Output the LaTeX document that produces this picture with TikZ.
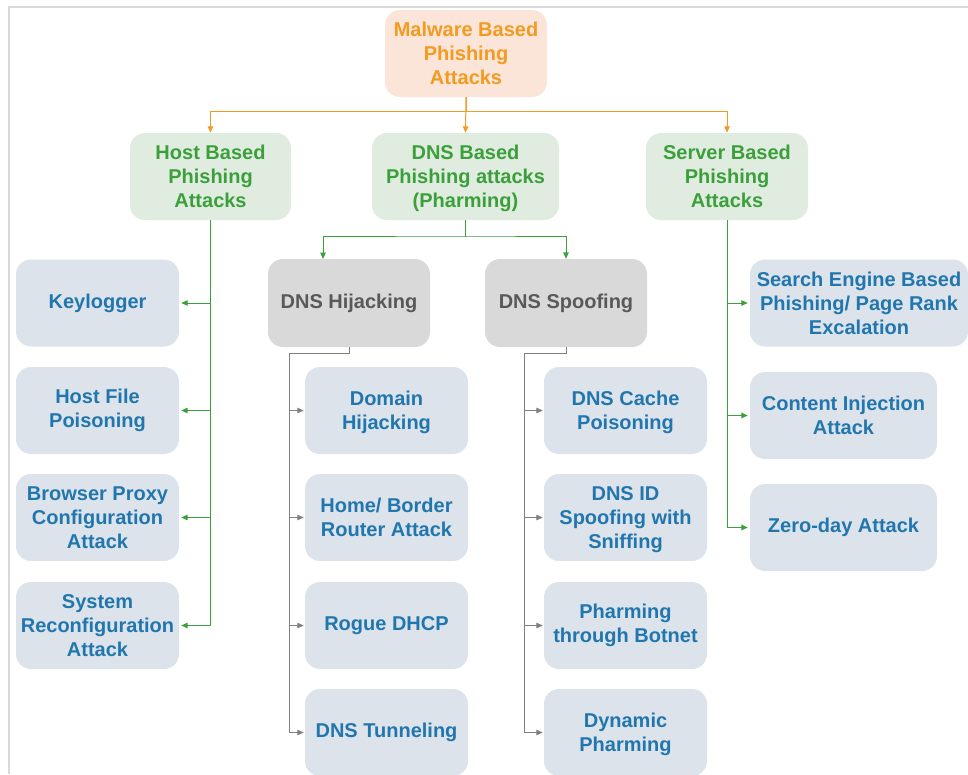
\documentclass[tikz,border=0pt]{standalone}
\usepackage{fontspec}
\setmainfont{Liberation Sans}
\usetikzlibrary{arrows.meta}
\definecolor{rootfill}{HTML}{FBE5D8}
\definecolor{roottext}{HTML}{F29B21}
\definecolor{midfill}{HTML}{E0ECDF}
\definecolor{midtext}{HTML}{3BA03B}
\definecolor{leaffill}{HTML}{DCE3EB}
\definecolor{leaftext}{HTML}{2176AE}
\definecolor{subfill}{HTML}{D9D9D9}
\definecolor{subtext}{HTML}{595959}
\definecolor{framegray}{HTML}{D9D9D9}
\definecolor{linegray}{HTML}{808080}
% last line of a label without its descender depth
\newcommand{\nodepth}[1]{\raisebox{0pt}[\height][0pt]{#1}}
\tikzset{
  box/.style={rounded corners=15pt, inner sep=0pt, align=center,
    font=\bfseries\fontsize{20}{24}\selectfont},
  rootbox/.style={box, fill=rootfill, text=roottext, minimum width=162pt, minimum height=87pt},
  midbox/.style={box, fill=midfill, text=midtext, minimum height=87pt},
  subbox/.style={box, fill=subfill, text=subtext, minimum width=162pt, minimum height=88pt},
  leafbox/.style={box, fill=leaffill, text=leaftext, minimum width=163pt, minimum height=87pt},
  tip/.style={-{Triangle[length=6.5pt,width=5.5pt]}},
  orangeline/.style={draw=roottext, line width=1pt, tip},
  greenline/.style={draw=midtext, line width=1pt, tip, shorten >=2pt},
  grayline/.style={draw=linegray, line width=1pt, tip, shorten >=1pt},
}
\begin{document}
\begin{tikzpicture}[x=1pt,y=-1pt]
\useasboundingbox (0,0) rectangle (968,774);
% page frame
\draw[framegray, line width=2pt] (968,7) -- (9,7) -- (9,774);

% root and second level
\node[rootbox] (root) at (466,53.5) {Malware Based\\Phishing\\Attacks};
\node[midbox, minimum width=161pt] (host) at (210.5,176.5) {Host Based\\Phishing\\Attacks};
\node[midbox, minimum width=187pt] (dns) at (465.5,176.5) {DNS Based\\Phishing attacks\\\nodepth{(Pharming)}};
\node[midbox, minimum width=162pt] (server) at (727,176.5) {Server Based\\Phishing\\Attacks};

% host based attacks
\node[leafbox] (keylog) at (97.5,303) {Keylogger};
\node[leafbox] (hostfile) at (97.5,410.5) {Host File\\Poisoning};
\node[leafbox] (proxy) at (97.5,517.5) {Browser Proxy\\Configuration\\Attack};
\node[leafbox] (reconf) at (97.5,625.5) {System\\Reconfiguration\\Attack};

% DNS based attacks
\node[subbox] (hijack) at (349,303) {DNS Hijacking};
\node[subbox] (spoof) at (566,303) {DNS Spoofing};

\node[leafbox] (domain) at (386.5,410.5) {Domain\\\nodepth{Hijacking}};
\node[leafbox] (router) at (386.5,517.5) {Home/ Border\\Router Attack};
\node[leafbox] (dhcp) at (386.5,625.5) {Rogue DHCP};
\node[leafbox] (tunnel) at (386.5,732.5) {DNS Tunneling};

\node[leafbox] (cache) at (625.5,410.5) {DNS Cache\\\nodepth{Poisoning}};
\node[leafbox] (dnsid) at (625.5,517.5) {DNS ID\\Spoofing with\\\nodepth{Sniffing}};
\node[leafbox] (botnet) at (625.5,625.5) {Pharming\\through Botnet};
\node[leafbox] (dynamic) at (625.5,732.5) {Dynamic\\\nodepth{Pharming}};

% server based attacks
\node[leafbox, minimum width=218pt] (search) at (859,303) {Search Engine Based\\Phishing/ Page Rank\\Excalation};
\node[leafbox, minimum width=187pt] (inject) at (843.5,415.5) {Content Injection\\Attack};
\node[leafbox, minimum width=187pt] (zeroday) at (843.5,527.5) {Zero-day Attack};

% root connectors
\coordinate (rootbus) at (466,111);
\draw[orangeline] (root.south) |- (rootbus) -| (host.north);
\draw[orangeline] (root.south) -- (dns.north);
\draw[orangeline] (root.south) |- (rootbus) -| (server.north);

% host connectors
\draw[greenline] (host.south) |- (keylog.east);
\draw[greenline] (host.south) |- (hostfile.east);
\draw[greenline] (host.south) |- (proxy.east);
\draw[greenline] (host.south) |- (reconf.east);

% DNS connectors
\coordinate (dnsbus) at (466,236);
\coordinate (hijackin) at (323,259);
\draw[greenline, shorten >=0pt] (dns.south) |- (dnsbus) -| (hijackin);
\draw[greenline, shorten >=0pt] (dns.south) |- (dnsbus) -| (spoof.north);

\coordinate (hijackbus) at (289,353);
\draw[grayline] (hijack.south) |- (hijackbus) |- (domain.west);
\draw[grayline] (hijackbus) |- (router.west);
\draw[grayline] (hijackbus) |- (dhcp.west);
\draw[grayline] (hijackbus) |- (tunnel.west);

\coordinate (spoofbus) at (524,353);
\draw[grayline] (spoof.south) |- (spoofbus) |- (cache.west);
\draw[grayline] (spoofbus) |- (dnsid.west);
\draw[grayline] (spoofbus) |- (botnet.west);
\draw[grayline] (spoofbus) |- (dynamic.west);

% server connectors
\draw[greenline] (server.south) |- (search.west);
\draw[greenline] (server.south) |- (inject.west);
\draw[greenline] (server.south) |- (zeroday.west);
\end{tikzpicture}
\end{document}
